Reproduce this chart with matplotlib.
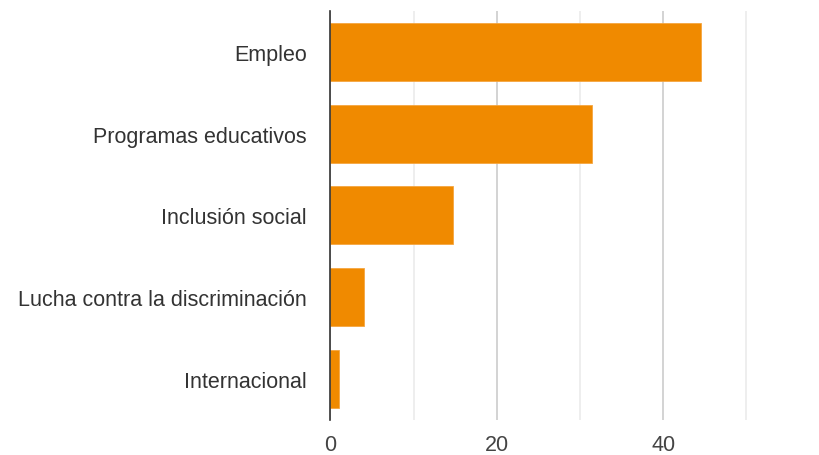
import matplotlib
matplotlib.use("Agg")
import matplotlib.pyplot as plt
from matplotlib.ticker import MultipleLocator

categories = ["Empleo", "Programas educativos", "Inclusión social",
              "Lucha contra la discriminación", "Internacional"]
values = [44.6, 31.4, 14.8, 4.0, 1.1]
xticks = [0, 20, 40]

plt.rcParams['font.family'] = ['Liberation Sans', 'DejaVu Sans']

fig = plt.figure(figsize=(8.19, 4.56), dpi=100)
ax = fig.add_axes([330.3 / 819, 1 - 420.7 / 456, (788 - 330.3) / 819, (420.7 - 12) / 456])

ypos = list(range(len(categories)))
ax.barh(ypos, values, height=0.71, color="#F08A00", edgecolor="#F5A640", linewidth=0.6, zorder=3)
ax.set_ylim(len(categories) - 0.5, -0.5)
ax.set_xlim(0, 55)

ax.set_yticks(ypos)
ax.set_yticklabels(categories, fontsize=15.5, color="#333333")
ax.set_xticks(xticks)
ax.set_xticklabels([str(t) for t in xticks], fontsize=15.5, color="#444444")
ax.xaxis.set_minor_locator(MultipleLocator(10))

ax.grid(axis='x', which='major', color="#cccccc", linewidth=1.2, zorder=0)
ax.grid(axis='x', which='minor', color="#ebebeb", linewidth=1.2, zorder=0)
ax.tick_params(axis='both', which='both', length=0)
ax.tick_params(axis='y', pad=17)
ax.tick_params(axis='x', pad=10)
for s in ['top', 'right', 'bottom']:
    ax.spines[s].set_visible(False)
ax.spines['left'].set_color("#333333")
ax.spines['left'].set_linewidth(1.2)
ax.spines['left'].set_zorder(4)

fig.savefig("out.png", dpi=100)
